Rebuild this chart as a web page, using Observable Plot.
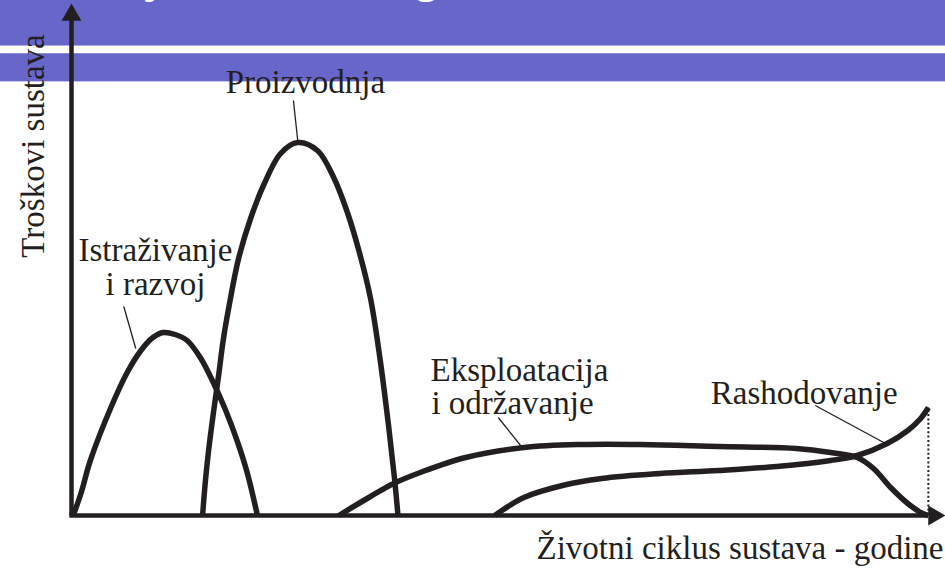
<!DOCTYPE html>
<html>
<head>
<meta charset="utf-8">
<script src="https://cdn.jsdelivr.net/npm/d3@7"></script>
<script src="https://cdn.jsdelivr.net/npm/@observablehq/plot@0.6"></script>
<style>
  html, body { margin: 0; padding: 0; background: #fff; }
  #chart { position: relative; width: 945px; height: 569px; overflow: hidden; }
  .band { position: absolute; left: 0; width: 945px; background: #6767C9; }
  #band1 { top: 0; height: 45px; border-bottom: 1px solid #ABABEE; }
  #band2 { top: 53px; height: 27px; border-top: 1px solid #8C8CD6; border-bottom: 1px solid #C4C4F2; }
  #slideTitle {
    position: absolute; left: 104px; top: -47px;
    font: italic bold 46px "Liberation Sans", Arial, sans-serif;
    line-height: 46px; color: #fff; white-space: nowrap;
  }
  #chart svg { position: absolute; left: 0; top: 0; }
</style>
</head>
<body>
<div id="chart">
  <div class="band" id="band1"></div>
  <div class="band" id="band2"></div>
  <div id="slideTitle">Cijena životnog ciklusa sustava</div>
</div>
<script>
// Life-cycle cost phases: time along x (end of life = 100), cost along y
const rdYears   = [0.2, 1.1, 2.2, 4.6, 6.5, 8.1, 9.5, 10.7, 12.1, 13.5, 15.1, 16.6, 18.0, 19.4, 20.5, 21.7];
const rdCost    = [0, 4.4, 11, 21.6, 28.6, 33, 35.6, 36.6, 36.2, 35, 31.4, 26.4, 21, 14.6, 8.6, 0];

const prodYears = [15.3, 15.6, 16.0, 16.6, 17.2, 17.7, 18.4, 19.5, 20.9, 22.4, 24.4, 26.4, 28.7, 30.6, 32.2, 33.6, 34.9, 36.0, 37.0, 37.7, 38.1];
const prodCost  = [0, 6.4, 13, 21, 28.4, 35, 42, 51.4, 59.4, 66, 72.4, 74.6, 73, 67.6, 60.6, 52.6, 43.4, 31.4, 18, 7.4, 0];

const opsYears  = [31.2, 34.7, 37.6, 40.7, 46.0, 52.8, 59.6, 66.4, 75.5, 84.6, 88.6, 91.7, 93.6, 95.6, 97.6, 99.1, 100];
const opsCost   = [0, 3.6, 6.4, 8.6, 11.6, 13.6, 14.2, 14.2, 13.8, 13.4, 12.6, 11.6, 9.4, 5.6, 2.4, 0.6, 0];

const dispYears = [49.4, 52.8, 57.3, 61.9, 68.7, 75.5, 82.3, 88.6, 91.7, 95.2, 97.6, 99.1, 100];
const dispCost  = [0, 3.6, 6, 7.4, 8.4, 9, 9.8, 11, 12, 14.4, 17, 19.4, 21.6];

const phaseLabels = ["Proizvodnja", "Istraživanje", "i razvoj", "Eksploatacija", "i održavanje", "Rashodovanje"];
const yTitle = "Troškovi sustava";
const xTitle = "Životni ciklus sustava - godine";

// label placement (anchor point of each text line, in chart units)
const labelLayout = [
  {x: 27.3, y: 84.6, anchor: "middle"},
  {x: 9.8,  y: 51,   anchor: "middle"},
  {x: 9.8,  y: 44.2, anchor: "middle"},
  {x: 41.9, y: 27,   anchor: "start"},
  {x: 42.0, y: 20.4, anchor: "start"},
  {x: 74.6, y: 22.4, anchor: "start"}
];
// thin leader lines from each label to its curve
const leaders = [
  {x1: 25.9, y1: 83,   x2: 26.4, y2: 75},
  {x1: 6.1,  y1: 41.8, x2: 7.5,  y2: 33.4},
  {x1: 49.8, y1: 19.6, x2: 52.5, y2: 13.8},
  {x1: 86.8, y1: 22,   x2: 95.0, y2: 14.4}
];

const ink = "#231F20";
const serif = "Liberation Serif";
const toPoints = (xs, ys) => xs.map((x, i) => ({x, y: ys[i]}));
const curves = [toPoints(rdYears, rdCost), toPoints(prodYears, prodCost), toPoints(opsYears, opsCost), toPoints(dispYears, dispCost)];
const labels = phaseLabels.map((text, i) => ({text, ...labelLayout[i]}));

const xMax = 102, yMax = 102;
const endOfLife = dispYears[dispYears.length - 1];

const chart = Plot.plot({
  width: 945,
  height: 569,
  marginLeft: 71,
  marginRight: 0,
  marginTop: 5,
  marginBottom: 54,
  style: {background: "transparent", overflow: "visible"},
  x: {domain: [0, xMax], axis: null},
  y: {domain: [0, yMax], axis: null},
  marks: [
    // axes with arrowheads
    Plot.ruleX([0], {y1: 0, y2: yMax - 3, stroke: ink, strokeWidth: 4.5}),
    Plot.ruleY([0], {x1: -0.2, x2: xMax - 2, stroke: ink, strokeWidth: 4.5}),
    Plot.dot([{x: 0, y: yMax - 1.9}], {x: "x", y: "y", symbol: "triangle", r: 7.4, fill: ink, stroke: "none"}),
    Plot.dot([{x: xMax - 1.34, y: 0}], {x: "x", y: "y", symbol: "triangle", r: 7.4, rotate: 90, fill: ink, stroke: "none"}),
    // end of life marker
    Plot.ruleX([endOfLife], {y1: 0, y2: dispCost[dispCost.length - 1], stroke: ink, strokeWidth: 2, strokeDasharray: "2,2.3"}),
    // phase cost curves
    ...curves.map(c => Plot.line(c, {x: "x", y: "y", curve: "catmull-rom", stroke: ink, strokeWidth: 5.5, strokeLinecap: "butt", strokeLinejoin: "round"})),
    // leaders and labels
    Plot.link(leaders, {x1: "x1", y1: "y1", x2: "x2", y2: "y2", stroke: ink, strokeWidth: 1.3}),
    Plot.text(labels.filter(d => d.anchor === "middle"), {x: "x", y: "y", text: "text", textAnchor: "middle", lineAnchor: "bottom", fontFamily: serif, fontSize: 33, fill: ink}),
    Plot.text(labels.filter(d => d.anchor === "start"), {x: "x", y: "y", text: "text", textAnchor: "start", lineAnchor: "bottom", fontFamily: serif, fontSize: 33, fill: ink}),
    Plot.text([yTitle], {frameAnchor: "top-left", rotate: -90, textAnchor: "middle", lineAnchor: "bottom", dx: -28, dy: 140.5, fontFamily: serif, fontSize: 33, fill: ink}),
    Plot.text([xTitle], {frameAnchor: "bottom-right", textAnchor: "end", lineAnchor: "bottom", dx: -2, dy: 43, fontFamily: serif, fontSize: 33, fill: ink})
  ]
});
document.getElementById("chart").appendChild(chart);
</script>
</body>
</html>
